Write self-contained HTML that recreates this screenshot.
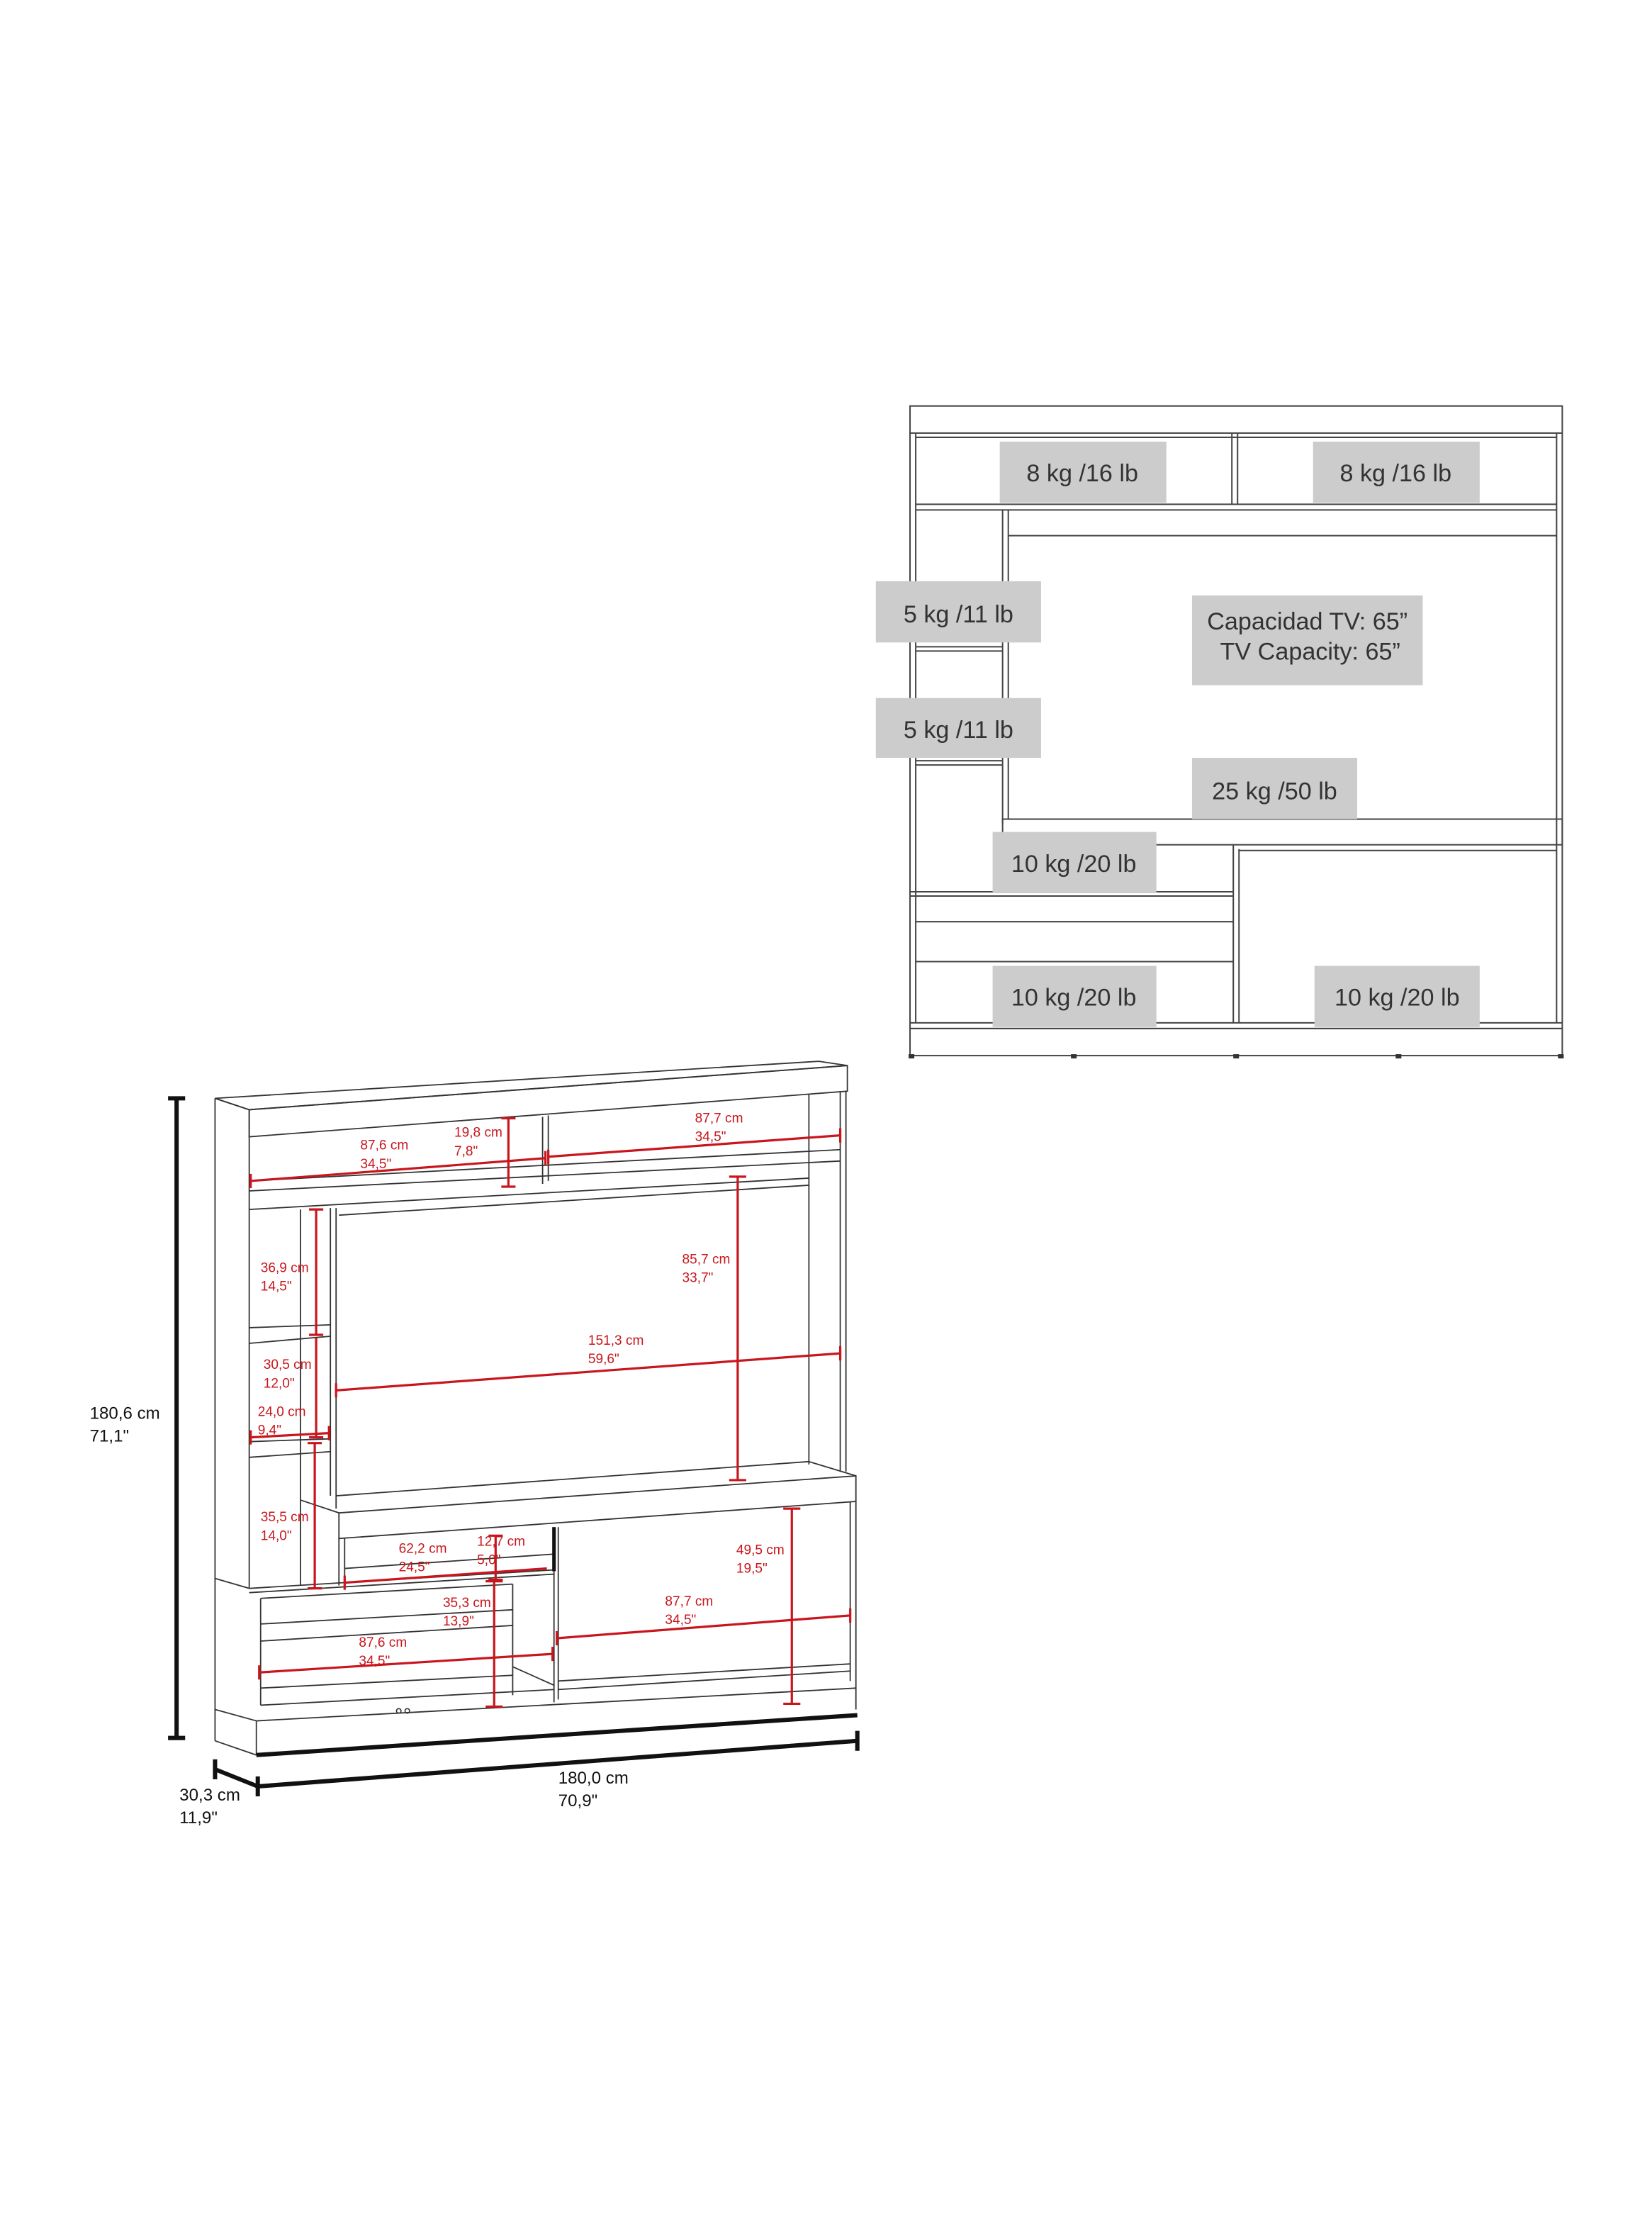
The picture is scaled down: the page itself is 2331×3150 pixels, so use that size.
<!DOCTYPE html>
<html><head><meta charset="utf-8"><style>
html,body{margin:0;padding:0;background:#fff;}
svg{display:block;}
text{font-family:"Liberation Sans",sans-serif;}
</style></head><body>
<svg width="2331" height="3150" viewBox="0 0 1160 1567.5" preserveAspectRatio="none" xmlns="http://www.w3.org/2000/svg">
<rect width="1165.5" height="1575" fill="#fff"/>
<!-- TOP RIGHT DIAGRAM -->
<g fill="none" stroke="#444" stroke-width="1">
<rect x="639" y="285" width="458" height="19"/>
<line x1="639" y1="304" x2="639" y2="722"/><line x1="643" y1="304" x2="643" y2="718"/>
<line x1="1097" y1="304" x2="1097" y2="722"/><line x1="1093" y1="304" x2="1093" y2="718"/>
<line x1="643" y1="307" x2="1093" y2="307"/>
<line x1="865" y1="304" x2="865" y2="354"/><line x1="869" y1="304" x2="869" y2="354"/>
<line x1="643" y1="354" x2="1093" y2="354"/><line x1="643" y1="358" x2="1093" y2="358"/>
<line x1="704" y1="358" x2="704" y2="578"/><line x1="708" y1="358" x2="708" y2="575"/>
<line x1="708" y1="376" x2="1093" y2="376"/>
<line x1="643" y1="454" x2="704" y2="454"/><line x1="643" y1="457" x2="704" y2="457"/>
<line x1="643" y1="534" x2="704" y2="534"/><line x1="643" y1="537" x2="704" y2="537"/>
<rect x="704" y="575" width="393" height="18"/>
<line x1="866" y1="593" x2="866" y2="718"/><line x1="870" y1="596" x2="870" y2="718"/>
<line x1="870" y1="597" x2="1093" y2="597"/>
<line x1="639" y1="626" x2="866" y2="626"/><line x1="639" y1="629" x2="866" y2="629"/>
<line x1="643" y1="647" x2="866" y2="647"/><line x1="643" y1="675" x2="866" y2="675"/>
<line x1="639" y1="718" x2="1097" y2="718"/><line x1="639" y1="722" x2="1097" y2="722"/>
<rect x="639" y="722" width="458" height="19"/>
</g>
<g fill="#333"><rect x="638" y="740" width="4" height="3"/><rect x="752" y="740" width="4" height="3"/><rect x="866" y="740" width="4" height="3"/><rect x="980" y="740" width="4" height="3"/><rect x="1094" y="740" width="4" height="3"/></g>
<g fill="#cccccc">
<rect x="702" y="310" width="117" height="43"/><rect x="922" y="310" width="117" height="43"/>
<rect x="615" y="408" width="116" height="43"/><rect x="615" y="490" width="116" height="42"/>
<rect x="837" y="418" width="162" height="63"/><rect x="837" y="532" width="116" height="43"/>
<rect x="697" y="584" width="115" height="43"/><rect x="697" y="678" width="115" height="43"/><rect x="923" y="678" width="116" height="43"/>
</g>
<g fill="#333" font-size="17" text-anchor="middle">
<text x="760" y="338">8 kg /16 lb</text><text x="980" y="338">8 kg /16 lb</text>
<text x="673" y="437">5 kg /11 lb</text><text x="673" y="518">5 kg /11 lb</text>
<text x="918" y="442">Capacidad TV: 65”</text><text x="920" y="463">TV Capacity: 65”</text>
<text x="895" y="561">25 kg /50 lb</text>
<text x="754" y="612">10 kg /20 lb</text><text x="754" y="706">10 kg /20 lb</text><text x="981" y="706">10 kg /20 lb</text>
</g>
<!-- LEFT DRAWING -->
<g fill="none" stroke="#333" stroke-width="0.9">
<polygon points="151,771 575,745 595,748 175,779"/>
<polygon points="175,779 595,748 595,766 175,798"/>
<line x1="151" y1="771" x2="151" y2="1222"/><line x1="175" y1="779" x2="175" y2="1115"/>
<line x1="151" y1="771" x2="175" y2="779"/>
<line x1="590" y1="766" x2="590" y2="1033"/><line x1="594" y1="766" x2="594" y2="1033"/>
<line x1="568" y1="768" x2="568" y2="1028"/>
<line x1="381" y1="784" x2="381" y2="831"/><line x1="385" y1="783" x2="385" y2="829"/>
<line x1="175" y1="829" x2="590" y2="807"/><line x1="175" y1="836" x2="590" y2="815"/>
<line x1="175" y1="849" x2="568" y2="827"/><line x1="238" y1="853" x2="568" y2="832"/>
<line x1="211" y1="849" x2="211" y2="1113"/><line x1="232" y1="848" x2="232" y2="1050"/>
<line x1="236" y1="848" x2="236" y2="1059"/>
<line x1="175" y1="932" x2="232" y2="930"/><line x1="175" y1="943" x2="232" y2="938"/>
<line x1="175" y1="1012" x2="232" y2="1010"/><line x1="175" y1="1023" x2="232" y2="1019"/>
<line x1="236" y1="1050" x2="568" y2="1026"/><line x1="568" y1="1026" x2="601" y2="1036"/>
<polygon points="238,1062 601,1036 601,1054 238,1080"/>
<line x1="211" y1="1053" x2="238" y2="1062"/>
<line x1="238" y1="1080" x2="238" y2="1113"/><line x1="242" y1="1080" x2="242" y2="1113"/>
<line x1="242" y1="1101" x2="388" y2="1091"/>
<line x1="597" y1="1054" x2="597" y2="1180"/><line x1="601" y1="1054" x2="601" y2="1200"/>
<line x1="389" y1="1072" x2="389" y2="1195"/><line x1="392" y1="1072" x2="392" y2="1193"/>
<line x1="151" y1="1108" x2="175" y2="1115"/>
<line x1="175" y1="1115" x2="389" y2="1102"/><line x1="175" y1="1118" x2="389" y2="1105"/>
<line x1="183" y1="1122" x2="360" y2="1112"/><line x1="183" y1="1122" x2="183" y2="1197"/>
<line x1="360" y1="1112" x2="360" y2="1190"/>
<line x1="183" y1="1140" x2="360" y2="1130"/><line x1="183" y1="1152" x2="360" y2="1141"/>
<line x1="183" y1="1185" x2="360" y2="1176"/>
<line x1="360" y1="1170" x2="389" y2="1183"/>
<line x1="183" y1="1197" x2="389" y2="1186"/><line x1="392" y1="1180" x2="597" y2="1168"/>
<line x1="392" y1="1186" x2="597" y2="1173"/>
<line x1="151" y1="1200" x2="180" y2="1208"/><line x1="180" y1="1208" x2="601" y2="1185"/>
<line x1="180" y1="1208" x2="180" y2="1232"/>
<line x1="151" y1="1222" x2="180" y2="1232"/>
</g>
<line x1="180" y1="1232" x2="602" y2="1204" stroke="#111" stroke-width="3"/>
<line x1="389" y1="1072" x2="389" y2="1103" stroke="#111" stroke-width="2.5"/>
<circle cx="280" cy="1201" r="1.6" fill="none" stroke="#333" stroke-width="0.8"/>
<circle cx="286" cy="1201" r="1.6" fill="none" stroke="#333" stroke-width="0.8"/>
<!-- black dimensions -->
<g stroke="#111" stroke-width="3">
<line x1="124" y1="771" x2="124" y2="1220"/><line x1="118" y1="771" x2="130" y2="771"/><line x1="118" y1="1220" x2="130" y2="1220"/>
<line x1="181" y1="1254" x2="602" y2="1222"/><line x1="181" y1="1247" x2="181" y2="1261"/><line x1="602" y1="1215" x2="602" y2="1229"/>
<line x1="151" y1="1242" x2="181" y2="1254"/><line x1="151" y1="1235" x2="151" y2="1249"/>
</g>
<g fill="#111" font-size="12">
<text x="63" y="996">180,6 cm</text><text x="63" y="1012">71,1"</text>
<text x="392" y="1252">180,0 cm</text><text x="392" y="1268">70,9"</text>
<text x="126" y="1264">30,3 cm</text><text x="126" y="1280">11,9"</text>
</g>
<!-- red dimensions -->
<g stroke="#c8161d" stroke-width="1.6" fill="none">
<line x1="176" y1="829" x2="383" y2="813"/><line x1="176" y1="824" x2="176" y2="834"/><line x1="383" y1="808" x2="383" y2="818"/>
<line x1="357" y1="785" x2="357" y2="833"/><line x1="352" y1="785" x2="362" y2="785"/><line x1="352" y1="833" x2="362" y2="833"/>
<line x1="385" y1="812" x2="590" y2="797"/><line x1="385" y1="807" x2="385" y2="817"/><line x1="590" y1="792" x2="590" y2="802"/>
<line x1="222" y1="849" x2="222" y2="937"/><line x1="217" y1="849" x2="227" y2="849"/><line x1="217" y1="937" x2="227" y2="937"/>
<line x1="222" y1="939" x2="222" y2="1009"/><line x1="217" y1="1009" x2="227" y2="1009"/>
<line x1="176" y1="1009" x2="231" y2="1006"/><line x1="176" y1="1004" x2="176" y2="1014"/><line x1="231" y1="1001" x2="231" y2="1011"/>
<line x1="221" y1="1013" x2="221" y2="1115"/><line x1="216" y1="1013" x2="226" y2="1013"/><line x1="216" y1="1115" x2="226" y2="1115"/>
<line x1="518" y1="826" x2="518" y2="1039"/><line x1="512" y1="826" x2="524" y2="826"/><line x1="512" y1="1039" x2="524" y2="1039"/>
<line x1="236" y1="976" x2="590" y2="950"/><line x1="236" y1="971" x2="236" y2="981"/><line x1="590" y1="945" x2="590" y2="955"/>
<line x1="242" y1="1111" x2="384" y2="1101"/><line x1="242" y1="1106" x2="242" y2="1116"/>
<line x1="348" y1="1078" x2="348" y2="1109"/><line x1="343" y1="1078" x2="353" y2="1078"/><line x1="343" y1="1109" x2="353" y2="1109"/>
<line x1="556" y1="1059" x2="556" y2="1196"/><line x1="550" y1="1059" x2="562" y2="1059"/><line x1="550" y1="1196" x2="562" y2="1196"/>
<line x1="347" y1="1110" x2="347" y2="1198"/><line x1="341" y1="1110" x2="353" y2="1110"/><line x1="341" y1="1198" x2="353" y2="1198"/>
<line x1="391" y1="1150" x2="597" y2="1134"/><line x1="391" y1="1145" x2="391" y2="1155"/><line x1="597" y1="1129" x2="597" y2="1139"/>
<line x1="182" y1="1174" x2="388" y2="1161"/><line x1="182" y1="1169" x2="182" y2="1179"/><line x1="388" y1="1156" x2="388" y2="1166"/>
</g>
<g fill="#c8161d" font-size="9.5">
<text x="253" y="807">87,6 cm</text><text x="253" y="820">34,5"</text>
<text x="319" y="798">19,8 cm</text><text x="319" y="811">7,8"</text>
<text x="488" y="788">87,7 cm</text><text x="488" y="801">34,5"</text>
<text x="183" y="893">36,9 cm</text><text x="183" y="906">14,5"</text>
<text x="185" y="961">30,5 cm</text><text x="185" y="974">12,0"</text>
<text x="181" y="994">24,0 cm</text><text x="181" y="1007">9,4"</text>
<text x="183" y="1068">35,5 cm</text><text x="183" y="1081">14,0"</text>
<text x="479" y="887">85,7 cm</text><text x="479" y="900">33,7"</text>
<text x="413" y="944">151,3 cm</text><text x="413" y="957">59,6"</text>
<text x="280" y="1090">62,2 cm</text><text x="280" y="1103">24,5"</text>
<text x="335" y="1085">12,7 cm</text><text x="335" y="1098">5,0"</text>
<text x="517" y="1091">49,5 cm</text><text x="517" y="1104">19,5"</text>
<text x="311" y="1128">35,3 cm</text><text x="311" y="1141">13,9"</text>
<text x="467" y="1127">87,7 cm</text><text x="467" y="1140">34,5"</text>
<text x="252" y="1156">87,6 cm</text><text x="252" y="1169">34,5"</text>
</g>
</svg>
</body></html>
